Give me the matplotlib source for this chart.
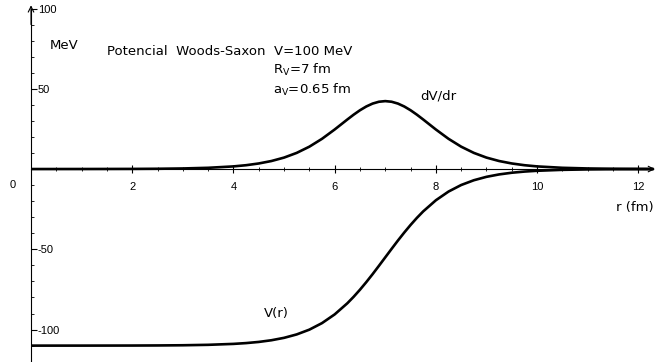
import matplotlib
matplotlib.use("Agg")
import matplotlib.pyplot as plt
from matplotlib.ticker import MultipleLocator, FixedLocator
import numpy as np

plt.rcParams['font.family'] = ['DejaVu Sans']
plt.rcParams['mathtext.fontset'] = 'dejavusans'

# Data
r = [0.0, 1.0, 2.0, 2.5, 3.0, 3.5, 4.0, 4.25, 4.5, 4.75, 5.0, 5.25, 5.5, 5.75,
     6.0, 6.25, 6.375, 6.5, 6.625, 6.75, 6.875, 7.0, 7.125, 7.25, 7.375, 7.5,
     7.625, 7.75, 8.0, 8.25, 8.5, 8.75, 9.0,
     9.25, 9.5, 9.75, 10.0, 10.5, 11.0, 11.5, 12.0, 12.3]
V = [-110.0, -109.99, -109.95, -109.89, -109.77, -109.50, -108.92, -108.42,
     -107.70, -106.65, -105.15, -103.02, -100.05, -95.97, -90.55, -83.63,
     -79.58, -75.17, -70.44, -65.46, -60.27, -55.0, -49.73, -44.54, -39.56,
     -34.83, -30.42, -26.37, -19.45, -14.03, -9.95,
     -6.98, -4.85, -3.35, -2.30, -1.58, -1.08, -0.50, -0.23, -0.11, -0.05, -0.03]
dV = [0.0, 0.02, 0.08, 0.17, 0.36, 0.77, 1.64, 2.39, 3.47, 4.99, 7.13, 10.06,
      13.93, 18.83, 24.63, 30.85, 33.86, 36.62, 38.97, 40.78, 41.92, 42.31,
      41.92, 40.78, 38.97, 36.62, 33.86, 30.85,
      24.63, 18.83, 13.93, 10.06, 7.13, 4.99, 3.47, 2.39, 1.64, 0.77, 0.36,
      0.17, 0.08, 0.05]
x_major = [2, 4, 6, 8, 10, 12]
y_major = [-100, -50, 50, 100]

fig = plt.figure(figsize=(6.55, 3.62), dpi=100)
ax = fig.add_axes([0, 0, 1, 1])
ax.set_xlim(-0.613, 12.33)
ax.set_ylim(-120.2, 105.3)
ax.patch.set_alpha(0)

ax.plot(r, V, color='black', lw=1.9, solid_capstyle='butt', solid_joinstyle='round')
ax.plot(r, dV, color='black', lw=1.9, solid_capstyle='butt', solid_joinstyle='round')

for s in ['top', 'left']:
    ax.spines[s].set_visible(False)
ax.spines['bottom'].set_position(('data', 0))
ax.spines['right'].set_position(('data', 0))
ax.spines['bottom'].set_linewidth(0.8)
ax.spines['right'].set_linewidth(0.8)
ax.spines['bottom'].set_bounds(0, 12.3)
ax.spines['right'].set_bounds(-120.2, 100)

ax.xaxis.set_major_locator(FixedLocator(x_major))
ax.xaxis.set_minor_locator(FixedLocator(np.arange(0.5, 12.3, 0.5)))
ax.yaxis.tick_right()
ax.yaxis.set_major_locator(FixedLocator(y_major))
ax.yaxis.set_minor_locator(FixedLocator(np.arange(-120, 101, 10)))
ax.tick_params(axis='x', which='major', direction='inout', length=6, width=0.8,
               labelsize=8, pad=6)
ax.tick_params(axis='x', which='minor', direction='inout', length=3, width=0.6)
ax.tick_params(axis='y', which='major', direction='out', length=4, width=0.8,
               labelsize=8, pad=1)
ax.tick_params(axis='y', which='minor', direction='out', length=2, width=0.6)
for lab in ax.get_xticklabels() + ax.get_yticklabels():
    lab.set_fontfamily('Liberation Sans')
ax.yaxis.set_major_formatter(matplotlib.ticker.FuncFormatter(lambda v, p: f"{int(v)}"))

# arrows
ax.annotate('', xy=(12.33, 0), xytext=(12.1, 0),
            arrowprops=dict(arrowstyle='->', lw=0.8, color='black',
                            shrinkA=0, shrinkB=0))
ax.annotate('', xy=(0, 102), xytext=(0, 90),
            arrowprops=dict(arrowstyle='->', lw=0.8, color='black',
                            shrinkA=0, shrinkB=0))

tx = dict(fontsize=9.5, color='black')
ax.text(-0.37, -10, '0', fontsize=8, family='Liberation Sans', ha='center', va='center')
ax.text(0.37, 77, 'MeV', va='center', ha='left', **tx)
ax.text(1.5, 73.5, 'Potencial  Woods-Saxon  V=100 MeV', va='center', ha='left', **tx)
ax.text(4.79, 62, r'R$_\mathrm{V}$=7 fm', va='center', ha='left', **tx)
ax.text(4.79, 49, r'a$_\mathrm{V}$=0.65 fm', va='center', ha='left', **tx)
ax.text(7.69, 45.5, 'dV/dr', va='center', ha='left', **tx)
ax.text(4.6, -90, 'V(r)', va='center', ha='left', **tx)
ax.text(11.55, -24, 'r (fm)', va='center', ha='left', **tx)

fig.savefig('out.png', dpi=100)
